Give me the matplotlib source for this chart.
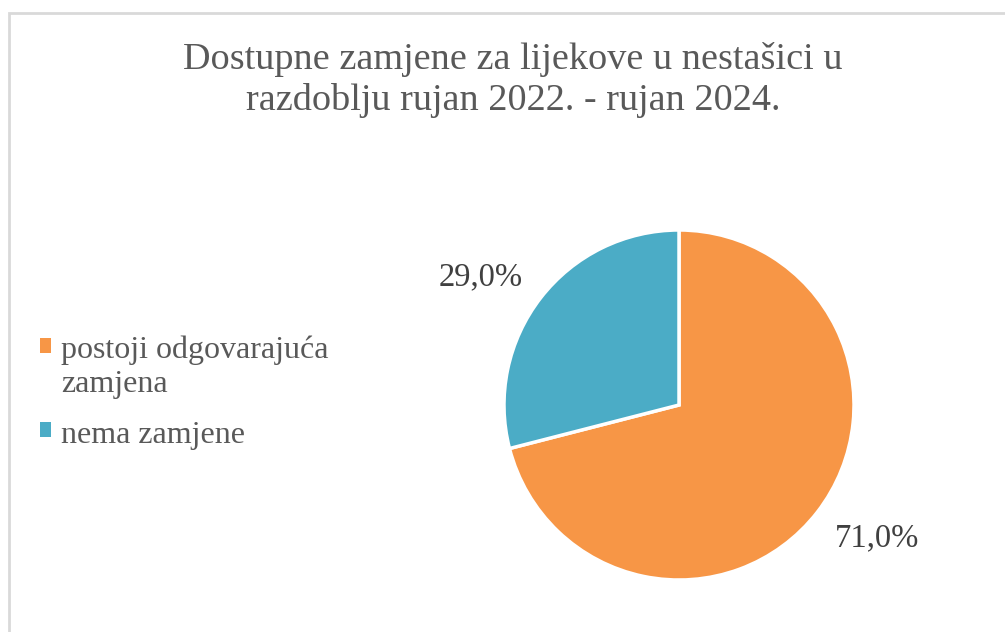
import matplotlib
matplotlib.use("Agg")
import numpy as np
import matplotlib.pyplot as plt
from matplotlib.patches import Rectangle, Patch
from matplotlib.legend_handler import HandlerPatch

categories = ["postoji odgovarajuća\nzamjena", "nema zamjene"]
values = [71.0, 29.0]
colors = ["#F79646", "#4BACC6"]
title = "Dostupne zamjene za lijekove u nestašici u\nrazdoblju rujan 2022. - rujan 2024."

plt.rcParams['font.family'] = ['Liberation Serif', 'DejaVu Serif']

W, H = 1005, 632
fig = plt.figure(figsize=(W / 100, H / 100), dpi=100)
fig.patch.set_facecolor("white")

# border (left/top visible, right/bottom cropped)
fig.add_artist(Rectangle((8.5 / W, -0.1), 1.2, 1.1 - 12.5 / H, transform=fig.transFigure,
                         fill=False, edgecolor="#d9d9d9", linewidth=2))

cx, cy, r = 679, 405, 175
ax = fig.add_axes([(cx - r) / W, (H - cy - r) / H, 2 * r / W, 2 * r / H])
wedges, texts = ax.pie(values, colors=colors, startangle=90, counterclock=False,
                       wedgeprops=dict(edgecolor="white", linewidth=2.5),
                       labels=[f"{v:.1f}%".replace('.', ',') for v in values],
                       labeldistance=1.355,
                       textprops=dict(fontsize=23.5, color="#404040"))
for w, t in zip(wedges, texts):
    th = np.deg2rad((w.theta1 + w.theta2) / 2 + 4.4)
    t.set_position((1.355 * np.cos(th), 1.355 * np.sin(th) - 0.015))
    t.set_ha("center")
    t.set_va("center")
ax.set_xlim(-1, 1)
ax.set_ylim(-1, 1)
ax.set_aspect("equal")

fig.text(513 / W, 1 - 80 / H, title, ha="center", va="center", fontsize=27.5,
         color="#595959", linespacing=1.22)


class TopHandler(HandlerPatch):
    def __init__(self, shift, **kw):
        super().__init__(**kw)
        self.shift = shift

    def create_artists(self, legend, orig_handle, xdescent, ydescent, width, height,
                       fontsize, trans):
        p = Rectangle((-xdescent, -ydescent + self.shift), width, height,
                      facecolor=orig_handle.get_facecolor(), edgecolor="none",
                      transform=trans)
        return [p]


handles = [Patch(facecolor=c, edgecolor="none") for c in colors]
leg = fig.legend(handles, categories, loc="upper left", bbox_to_anchor=(40 / W, 1 - 336 / H),
                 frameon=False, fontsize=23, labelcolor="#595959",
                 handlelength=0.35, handleheight=0.35, handletextpad=0.3,
                 labelspacing=0.68, borderaxespad=0, borderpad=0,
                 handler_map={handles[0]: TopHandler(15.5), handles[1]: TopHandler(1.0)})
for t in leg.get_texts():
    t.set_linespacing(1.2)

fig.savefig("out.png", dpi=100)
